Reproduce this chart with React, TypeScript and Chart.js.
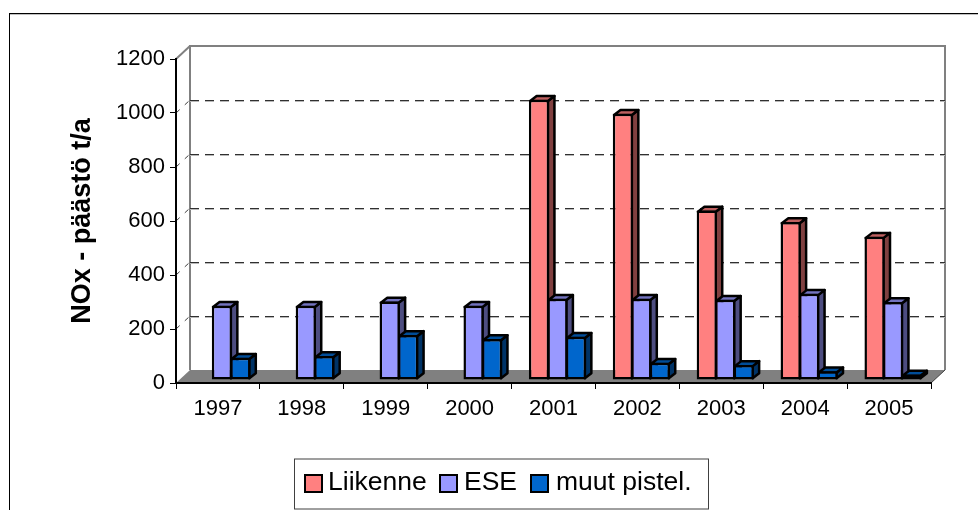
import React, { useEffect, useRef } from "react";
import { Chart, registerables } from "chart.js";

Chart.register(...registerables);

const categories = ["1997", "1998", "1999", "2000", "2001", "2002", "2003", "2004", "2005"];
const liikenne = [null, null, null, null, 1038, 986, 628, 585, 531];
const ese = [275, 275, 291, 275, 301, 301, 297, 319, 289];
const muut = [82, 89, 167, 152, 160, 64, 56, 32, 20];
const seriesLabels = ["Liikenne", "ESE", "muut pistel."];
const yTicks = [0, 200, 400, 600, 800, 1000, 1200];

const FONT = '"Liberation Sans", Arial, sans-serif';
const fronts = ["#FF8080", "#9999FF", "#0066CC"];
const tops = ["#BF6060", "#7373BF", "#004D99"];
const sides = ["#804040", "#4D4D80", "#003366"];

const WALL_DX = 14;
const WALL_DY = -13;
const BAR_SHIFT_X = 4;
const BAR_SHIFT_Y = -3;
const BAR_DX = 6.5;
const BAR_DY = -5;
const BAR_LINE = 2.5;

const poly = (ctx: CanvasRenderingContext2D, pts: number[][], fill: string | null, stroke: string | null, lw = 2) => {
  ctx.beginPath();
  pts.forEach((p, i) => (i ? ctx.lineTo(p[0], p[1]) : ctx.moveTo(p[0], p[1])));
  ctx.closePath();
  if (fill) {
    ctx.fillStyle = fill;
    ctx.fill();
  }
  if (stroke) {
    ctx.strokeStyle = stroke;
    ctx.lineWidth = lw;
    ctx.lineJoin = "round";
    ctx.stroke();
  }
};

const seg = (ctx: CanvasRenderingContext2D, x1: number, y1: number, x2: number, y2: number, color: string, lw: number, dash: number[] = []) => {
  ctx.beginPath();
  ctx.setLineDash(dash);
  ctx.strokeStyle = color;
  ctx.lineWidth = lw;
  ctx.moveTo(x1, y1);
  ctx.lineTo(x2, y2);
  ctx.stroke();
  ctx.setLineDash([]);
};

const scenePlugin = {
  id: "scene",
  beforeDraw(chart: any) {
    const { ctx, chartArea: a } = chart;
    ctx.save();
    ctx.fillStyle = "#fff";
    ctx.fillRect(0, 0, chart.width, chart.height);
    // outer frame (the right and bottom edges lie outside the window)
    ctx.fillStyle = "#c0c0c0";
    ctx.fillRect(10, 14, chart.width - 10, 1);
    ctx.fillStyle = "#000";
    ctx.fillRect(9, 13, chart.width - 9, 1);
    ctx.fillRect(9, 13, 1, chart.height - 13);
    // floor
    poly(ctx, [[a.left, a.bottom], [a.left + WALL_DX, a.bottom + WALL_DY], [a.right + WALL_DX, a.bottom + WALL_DY], [a.right, a.bottom]], "#808080", null);
    // walls
    const bx0 = a.left + WALL_DX, bx1 = a.right + WALL_DX, by0 = a.top + WALL_DY, by1 = a.bottom + WALL_DY;
    seg(ctx, bx0, by1, bx0, by0, "#808080", 2);
    seg(ctx, bx0 - 1, by0, bx1 + 1, by0, "#808080", 2);
    seg(ctx, bx1, by0, bx1, by1, "#808080", 2);
    seg(ctx, a.left, a.top, bx0, by0, "#808080", 2);
    seg(ctx, a.right, a.bottom, bx1, by1, "#404040", 1);
    // back-wall gridlines
    const y = chart.scales.y;
    yTicks.slice(1, -1).forEach((v) => {
      const py = Math.round(y.getPixelForValue(v));
      seg(ctx, a.left, py, bx0, py + WALL_DY, "#404040", 1, [5, 7]);
      seg(ctx, bx0, py + WALL_DY + 1.5, bx1, py + WALL_DY + 1.5, "#b8b8b8", 1, [9, 6]);
      seg(ctx, bx0, py + WALL_DY + 0.5, bx1, py + WALL_DY + 0.5, "#303030", 1, [9, 6]);
    });
    ctx.restore();
  },
  // Paint the series left to right, so each bar's front hides its left neighbour's side.
  beforeDatasetsDraw(chart: any) {
    const { ctx } = chart;
    [0, 1, 2].forEach((idx) => {
      const meta = chart.getDatasetMeta(idx);
      ctx.save();
      ctx.translate(BAR_SHIFT_X, BAR_SHIFT_Y);
      meta.data.forEach((bar: any, i: number) => {
        const v = chart.data.datasets[idx].data[i];
        if (v === null || v === undefined) return;
        const { x, y, base, width } = bar.getProps(["x", "y", "base", "width"], true);
        const inset = BAR_LINE / 2;
        const l = x - width / 2 + inset, r = x + width / 2 - inset, t = y + inset, b = base - inset;
        poly(ctx, [[r, t], [r + BAR_DX, t + BAR_DY], [r + BAR_DX, b + BAR_DY], [r, b]], sides[idx], "#000", BAR_LINE);
        poly(ctx, [[l, t], [l + BAR_DX, t + BAR_DY], [r + BAR_DX, t + BAR_DY], [r, t]], tops[idx], "#000", BAR_LINE);
      });
      meta.controller.draw();
      ctx.restore();
    });
    return false;
  },
  afterDraw(chart: any) {
    const { ctx } = chart;
    ctx.save();
    // legend
    ctx.fillStyle = "#fff";
    ctx.strokeStyle = "#404040";
    ctx.lineWidth = 1;
    ctx.fillRect(294.5, 459, 414, 50);
    ctx.strokeRect(294.5, 459, 414, 50);
    const boxX = [305, 440, 531];
    const textX = [328, 464, 556];
    ctx.textBaseline = "alphabetic";
    ctx.font = `26.5px ${FONT}`;
    seriesLabels.forEach((s, i) => {
      ctx.fillStyle = fronts[i];
      ctx.fillRect(boxX[i], 475, 17, 17);
      ctx.strokeStyle = "#000";
      ctx.lineWidth = 2;
      ctx.strokeRect(boxX[i], 475, 17, 17);
      ctx.fillStyle = "#000";
      ctx.fillText(s, textX[i], 490);
    });
    ctx.restore();
  },
};

export default function App() {
  const ref = useRef<HTMLCanvasElement | null>(null);
  useEffect(() => {
    if (!ref.current) return;
    const chart = new Chart(ref.current, {
      type: "bar",
      data: {
        labels: categories,
        datasets: [liikenne, ese, muut].map((d, i) => ({
          label: seriesLabels[i],
          data: d,
          backgroundColor: fronts[i],
          borderColor: "#000",
          borderWidth: BAR_LINE,
          borderSkipped: false,
          categoryPercentage: 0.66,
          barPercentage: 1.1,
          clip: false,
        })),
      } as any,
      options: {
        animation: false,
        responsive: false,
        layout: { padding: { left: 0, top: 59, right: 47, bottom: 0 } },
        plugins: { legend: { display: false }, tooltip: { enabled: false }, title: { display: false } },
        scales: {
          x: {
            afterFit: (s: any) => { s.height = 127; },
            grid: { drawOnChartArea: false, drawTicks: true, tickLength: 6, color: "#000", lineWidth: 1 },
            border: { color: "#000", width: 2 },
            ticks: { color: "#000", font: { family: FONT, size: 22 }, padding: 7, maxRotation: 0, autoSkip: false },
          },
          y: {
            min: 0,
            max: 1200,
            afterFit: (s: any) => { s.width = 176; },
            afterBuildTicks: (s: any) => { s.ticks = yTicks.map((v) => ({ value: v })); },
            grid: { drawOnChartArea: false, drawTicks: true, tickLength: 6, color: "#000", lineWidth: 1 },
            border: { color: "#000", width: 2 },
            ticks: { color: "#000", font: { family: FONT, size: 22 }, padding: 5, callback: (v: any) => String(v) },
            title: {
              display: true,
              text: "NOx - päästö t/a",
              color: "#000",
              font: { family: FONT, size: 27, weight: "bold" },
              padding: { top: 66, bottom: 0 },
            },
          },
        },
      } as any,
      plugins: [scenePlugin],
    });
    return () => chart.destroy();
  }, []);
  return <canvas ref={ref} width={978} height={510} style={{ position: "fixed", left: 0, top: 0, display: "block" }} />;
}
